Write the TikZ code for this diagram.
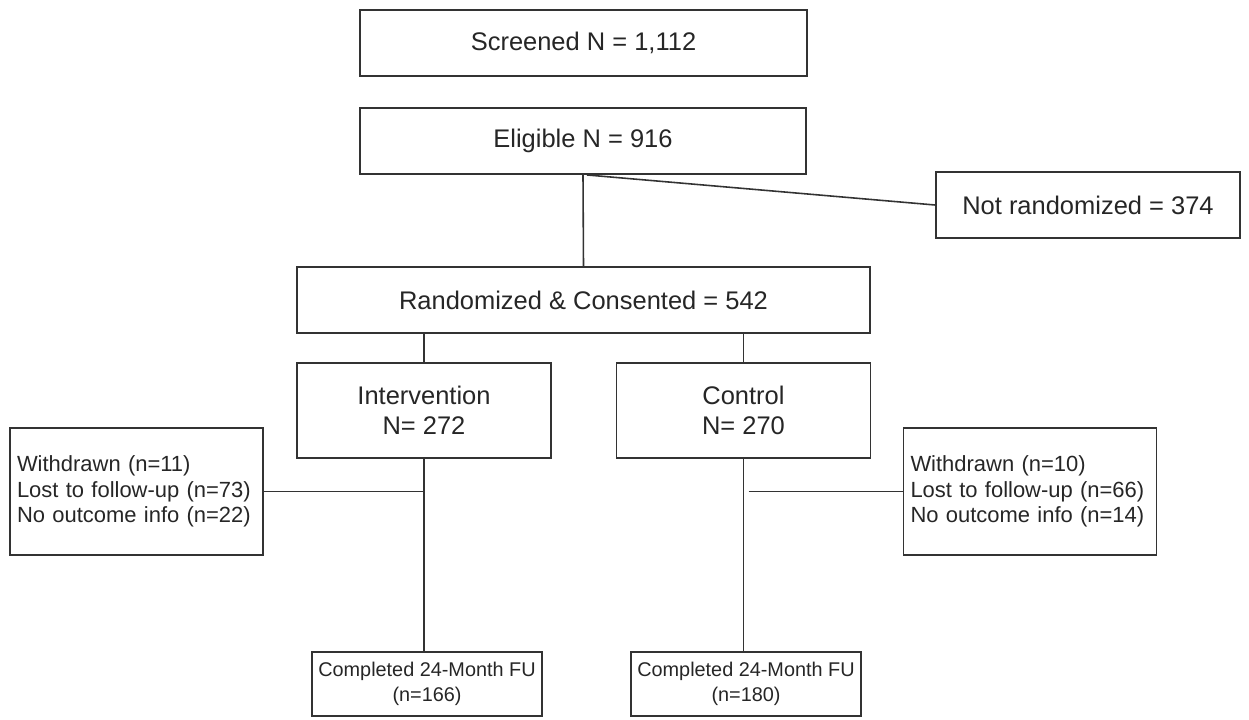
\documentclass[tikz,border=0pt]{standalone}
\usepackage{fontspec}
\setmainfont{Liberation Sans}
\usepackage{tikz}
\definecolor{boxline}{HTML}{333333}
\newlength{\px}
\setlength{\px}{0.02cm}

\begin{document}
\begin{tikzpicture}[x=0.02cm, y=-0.02cm]
\useasboundingbox (0,0) rectangle (1249,720);

\begin{scope}[every node/.style={draw=boxline, line width=1.1pt, inner sep=0pt, align=center, text=black!85, font=\fontsize{14.5}{17}\selectfont}]
  \node[minimum width=447\px, minimum height=66\px] (scr) at (583.5,43) {Screened N = 1,112};
  \node[minimum width=446\px, minimum height=66\px] (elig) at (583,141) {Eligible N = 916};
  \node[minimum width=304\px, minimum height=66\px] (notr) at (1088,205) {Not randomized = 374};
  \node[minimum width=573\px, minimum height=66\px] (rand) at (583.5,300) {Randomized \& Consented = 542};

  \node[minimum width=254\px, minimum height=95\px] (intv) at (424,410.5) {Intervention\\N= 272};
  \node[minimum width=254\px, minimum height=95\px] (ctrl) at (743.5,410.5) {Control\\N= 270};
\end{scope}

\begin{scope}[every node/.style={draw=boxline, line width=1.1pt, inner xsep=7\px, inner ysep=0pt, text width=239\px, minimum height=127\px, align=left, text=black!85, font=\fontsize{12.5}{14.5}\selectfont}]
  \node (wdi) at (136.5,491.5) {Withdrawn (n=11)\\Lost to follow-up (n=73)\\No outcome info (n=22)};
  \node (wdc) at (1030,491.5) {Withdrawn (n=10)\\Lost to follow-up (n=66)\\No outcome info (n=14)};
\end{scope}

\begin{scope}[every node/.style={draw=boxline, line width=1.1pt, inner sep=0pt, minimum width=230\px, minimum height=64\px, align=center, text=black!85, font=\fontsize{11.3}{14.5}\selectfont}]
  \node (fui) at (427,684) {Completed 24-Month FU\\(n=166)};
  \node (fuc) at (746,684) {Completed 24-Month FU\\(n=180)};
\end{scope}

\begin{scope}[every path/.style={draw=boxline, line width=0.9pt}]
\path (elig.south) edge (rand.north);
\path ([xshift=4\px]elig.south) edge (notr.west);
\path (rand.south -| intv.north) edge (intv.north);
\path (rand.south -| ctrl.north) edge (ctrl.north);
\path (intv.south) edge (intv.south |- fui.north);
\path (ctrl.south) edge (ctrl.south |- fuc.north);
\path (wdi.east) edge (wdi.east -| intv.south);
\path ([xshift=5\px]wdc.west -| ctrl.south) edge (wdc.west);
\end{scope}

\end{tikzpicture}
\end{document}
